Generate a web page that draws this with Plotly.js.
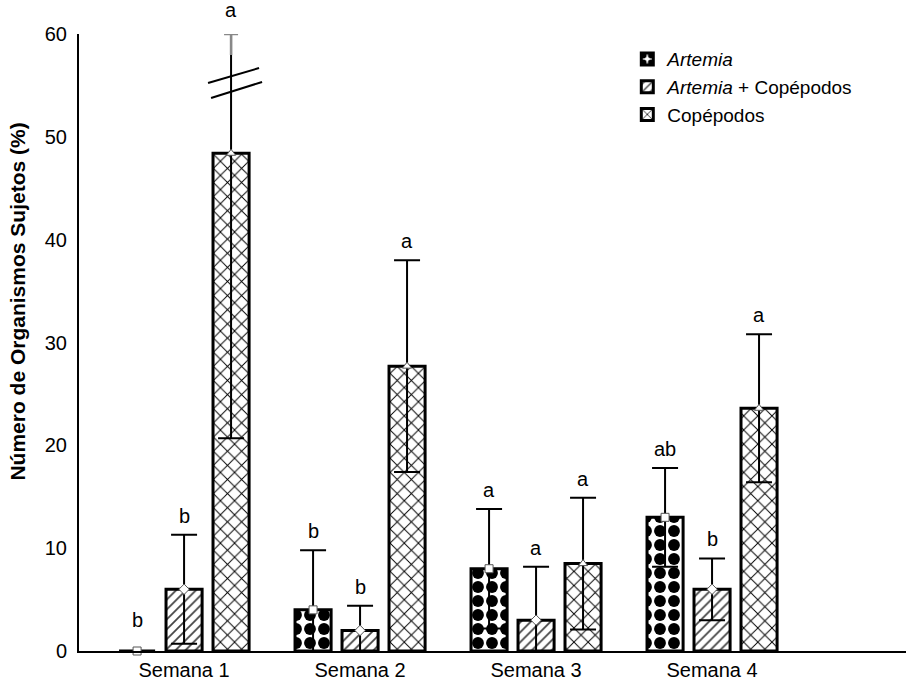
<!DOCTYPE html>
<html>
<head>
<meta charset="utf-8">
<script src="https://cdn.plot.ly/plotly-3.0.1.min.js"></script>
<style>
  html, body { margin: 0; padding: 0; background: #fff; }
  #chart { width: 914px; height: 683px; }
</style>
</head>
<body>
<div id="chart"></div>
<script>
// Weekly percentage of organisms, per diet, with standard deviation and Tukey letters
const weeks = ['Semana 1', 'Semana 2', 'Semana 3', 'Semana 4'];
const seriesNames = ['<i>Artemia</i>', '<i>Artemia</i> + Copépodos', 'Copépodos'];

const artemia      = [0, 4, 8, 13];
const artemiaCop   = [6, 2, 3, 6];
const copepodos    = [48.4, 27.7, 8.5, 23.6];

const artemiaSD    = [0, 5.8, 5.8, 4.8];
const artemiaCopSD = [5.3, 2.4, 5.2, 3.0];
const copepodosSD  = [27.7, 10.3, 6.4, 7.2];

const artemiaLetters    = ['b', 'b', 'a', 'ab'];
const artemiaCopLetters = ['b', 'b', 'a', 'b'];
const copepodosLetters  = ['a', 'a', 'a', 'a'];

const Y_MAX = 60;
const FONT = 'Liberation Sans, Arial, sans-serif';

const values  = [artemia, artemiaCop, copepodos];
const sds     = [artemiaSD, artemiaCopSD, copepodosSD];
const letters = [artemiaLetters, artemiaCopLetters, copepodosLetters];

// bar placement inside each week group
const groupIdx = weeks.map((_, i) => i);
const slot = 0.267, barW = 0.205;
const xs = k => groupIdx.map(i => i + (k - 1) * slot);

const patterns = [
  { shape: '.', fgcolor: '#000', bgcolor: '#fff', size: 14, solidity: 0.56 },
  { shape: '/', fgcolor: '#444', bgcolor: '#fff', size: 7, solidity: 0.25 },
  { shape: 'x', fgcolor: '#000', bgcolor: '#fff', size: 10, solidity: 0.18 }
];
const symbols = ['square', 'diamond', 'triangle-up'];

const traces = [];
values.forEach((v, k) => {
  traces.push({
    type: 'bar',
    name: seriesNames[k],
    x: xs(k),
    y: v,
    width: barW,
    marker: { color: '#fff', line: { color: '#000', width: 3 }, pattern: patterns[k] },
    error_y: { type: 'data', array: sds[k], visible: true, color: '#000', thickness: 2, width: 13 },
    hoverinfo: 'skip'
  });
});
values.forEach((v, k) => {
  traces.push({
    type: 'scatter',
    mode: 'markers',
    x: xs(k),
    y: v,
    showlegend: false,
    cliponaxis: false,
    marker: { symbol: symbols[k], size: 8, color: '#fff', line: { color: '#555', width: 1 } },
    hoverinfo: 'skip'
  });
});

// significance letters above each error bar
const annotations = [];
values.forEach((v, k) => {
  v.forEach((val, i) => {
    const top = val + sds[k][i];
    const clipped = top > Y_MAX;
    annotations.push({
      x: xs(k)[i], y: Math.min(top, Y_MAX), xref: 'x', yref: 'y',
      text: letters[k][i], showarrow: false, yanchor: 'bottom',
      yshift: val === 0 ? 18 : (clipped ? 11 : 6),
      font: { family: FONT, size: 20, color: '#000' }
    });
  });
});
annotations.push({
  xref: 'paper', yref: 'paper', x: -0.074, y: 0.566,
  text: '<b>Número de Organismos Sujetos (%)</b>', textangle: -90, showarrow: false,
  xanchor: 'center', yanchor: 'middle',
  font: { family: FONT, size: 21, color: '#000' }
});

// axis break on the first week's copepod error bar
const brokeX = xs(2)[0];
const shapes = [
  { type: 'line', xref: 'x', yref: 'y', xsizemode: 'pixel', ysizemode: 'pixel',
    xanchor: brokeX, yanchor: Y_MAX, x0: 0, x1: 0, y0: 0, y1: -21,
    line: { color: '#888', width: 2.5 } },
  { type: 'line', xref: 'x', yref: 'y', xsizemode: 'pixel', ysizemode: 'pixel',
    xanchor: brokeX, yanchor: Y_MAX, x0: -7, x1: 7, y0: 0, y1: 0,
    line: { color: '#888', width: 2.5 } },
  { type: 'line', xref: 'x', yref: 'y', xsizemode: 'pixel', ysizemode: 'pixel',
    xanchor: brokeX, yanchor: 55, x0: -23, x1: 28, y0: 2.4, y1: 17.4,
    line: { color: '#000', width: 2 } },
  { type: 'line', xref: 'x', yref: 'y', xsizemode: 'pixel', ysizemode: 'pixel',
    xanchor: brokeX, yanchor: 55, x0: -20, x1: 31, y0: -12.6, y1: 3.4,
    line: { color: '#000', width: 2 } }
];

const layout = {
  width: 914, height: 683,
  margin: { l: 79, r: 8, t: 34, b: 32 },
  paper_bgcolor: '#fff', plot_bgcolor: '#fff',
  font: { family: FONT, size: 20, color: '#000' },
  showlegend: true,
  legend: {
    x: 0.663, y: 0.99, xanchor: 'left', yanchor: 'top',
    bgcolor: 'rgba(0,0,0,0)', font: { family: FONT, size: 19, color: '#000' },
    tracegroupgap: 0
  },
  xaxis: {
    range: [-0.597, 4.102], tickvals: groupIdx, ticktext: weeks,
    showgrid: false, zeroline: false, showline: true, linecolor: '#000', linewidth: 2,
    ticks: '', tickfont: { family: FONT, size: 20, color: '#000' }, fixedrange: true
  },
  yaxis: {
    range: [0, Y_MAX], tickvals: [0, 10, 20, 30, 40, 50, 60],
    showgrid: false, zeroline: false, showline: true, linecolor: '#000', linewidth: 2,
    ticks: '', ticklabelstandoff: 6, tickfont: { family: FONT, size: 20, color: '#000' }, fixedrange: true
  },
  annotations: annotations,
  shapes: shapes
};

Plotly.newPlot('chart', traces, layout, { displayModeBar: false, staticPlot: true });
</script>
</body>
</html>
